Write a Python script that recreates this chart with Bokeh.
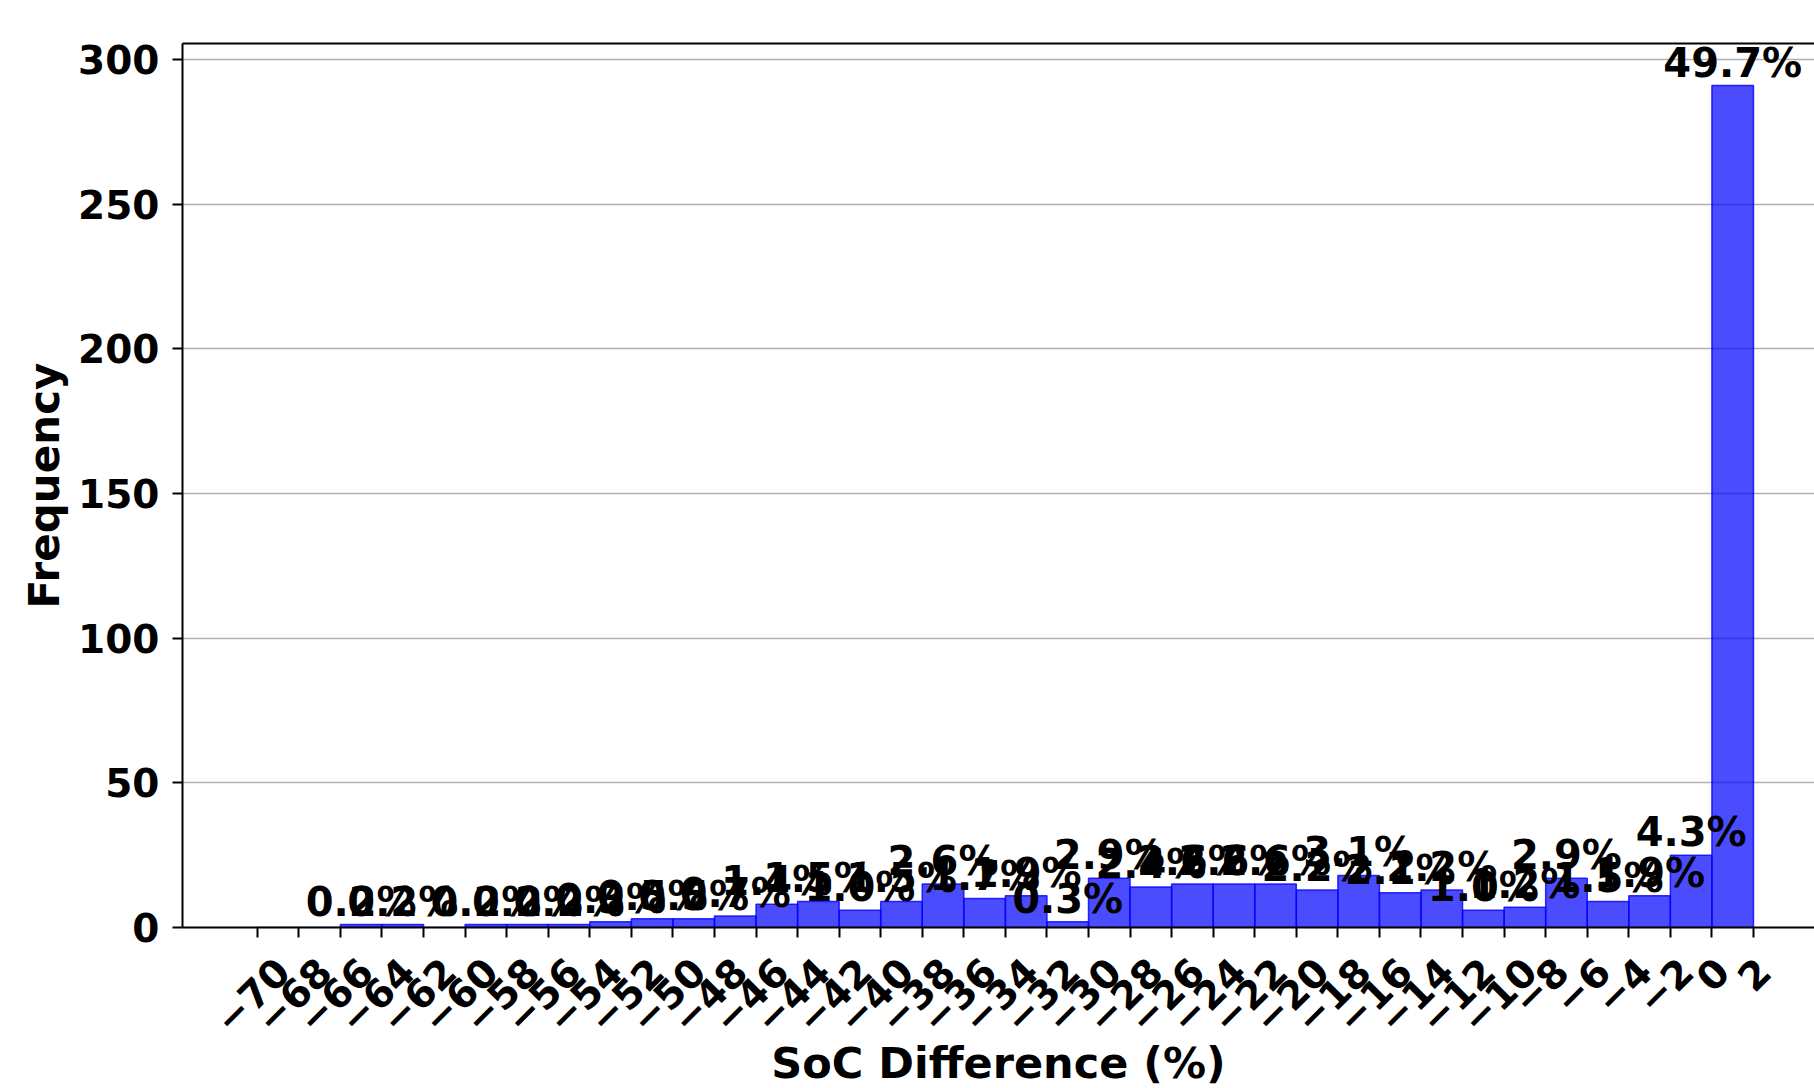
import math
from bokeh.plotting import figure
from bokeh.models import ColumnDataSource, Range1d, FixedTicker, LinearAxis
from bokeh.core.properties import value
from bokeh.embed import file_html
from bokeh.resources import INLINE

# ---------------- data ----------------
bin_left = [-70, -68, -66, -64, -62, -60, -58, -56, -54, -52, -50, -48,
            -46, -44, -42, -40, -38, -36, -34, -32, -30, -28, -26, -24,
            -22, -20, -18, -16, -14, -12, -10, -8, -6, -4, -2, 0]
bin_width = 2
counts = [0, 0, 1, 1, 0, 1, 1, 1, 2, 3, 3, 4,
          8, 9, 6, 9, 15, 10, 11, 2, 17, 14, 15, 15,
          15, 13, 18, 12, 13, 6, 7, 17, 9, 11, 25, 291]
x_ticks = [-70, -68, -66, -64, -62, -60, -58, -56, -54, -52, -50, -48,
           -46, -44, -42, -40, -38, -36, -34, -32, -30, -28, -26, -24,
           -22, -20, -18, -16, -14, -12, -10, -8, -6, -4, -2, 0, 2]
x_tick_labels = ["\u221270", "\u221268", "\u221266", "\u221264", "\u221262", "\u221260",
                 "\u221258", "\u221256", "\u221254", "\u221252", "\u221250", "\u221248",
                 "\u221246", "\u221244", "\u221242", "\u221240", "\u221238", "\u221236",
                 "\u221234", "\u221232", "\u221230", "\u221228", "\u221226", "\u221224",
                 "\u221222", "\u221220", "\u221218", "\u221216", "\u221214", "\u221212",
                 "\u221210", "\u22128", "\u22126", "\u22124", "\u22122", "0", "2"]
y_ticks = [0, 50, 100, 150, 200, 250, 300]
x_title = "SoC Difference (%)"
y_title = "Frequency"

FONT = "DejaVu Sans"
FRAME_W = 1632
X0 = -73.6
PX_PER_UNIT = 20.78
TICK_EM = 39

total = sum(counts)
bars = ColumnDataSource(dict(
    left=bin_left,
    right=[b + bin_width for b in bin_left],
    top=counts,
))
pct = ColumnDataSource(dict(
    x=[b + bin_width / 2 for b, c in zip(bin_left, counts) if c > 0],
    y=[c for c in counts if c > 0],
    text=[f"{c / total * 100:.1f}%" for c in counts if c > 0],
))

p = figure(frame_width=FRAME_W, frame_height=884,
           x_range=Range1d(X0, X0 + FRAME_W / PX_PER_UNIT),
           y_range=Range1d(0, 305.55),
           output_backend="svg", toolbar_location=None,
           min_border_left=182, min_border_right=0, min_border_top=43,
           min_border_bottom=0,
           y_axis_label=y_title,
           outline_line_color=None, background_fill_color="white",
           border_fill_color="white")

p.quad(source=bars, left="left", right="right", bottom=0, top="top",
       fill_color="blue", fill_alpha=0.7, line_color="blue", line_alpha=0.8,
       line_width=1.5)

p.text(source=pct, x="x", y="y", text="text", text_align="center",
       text_baseline="bottom", text_font=value(FONT), text_font_style="bold",
       text_font_size="40px", text_color="black")

# grid
p.xgrid.visible = False
p.ygrid.ticker = FixedTicker(ticks=y_ticks)
p.ygrid.grid_line_color = "#b0b0b0"
p.ygrid.grid_line_width = 1.5

# x axis 1: spine + tick marks only
xa = p.xaxis[0]
xa.ticker = FixedTicker(ticks=x_ticks)
xa.major_label_overrides = {t: "" for t in x_ticks}
xa.major_label_text_font_size = "0px"
xa.major_label_standoff = 0
xa.major_tick_out = 10
xa.major_tick_in = 0
xa.minor_tick_line_color = None
xa.axis_line_width = 2
xa.axis_line_color = "black"
xa.major_tick_line_width = 2
xa.major_tick_line_color = "black"

# x axis 2: rotated labels, shifted so each rotated label is centred on its tick
cw = {"\u2212": 0.838}
def label_shift_px(s):
    W = sum(cw.get(ch, 0.696) for ch in s)
    if s.startswith("\u2212"):
        min_x = 0.707 * (-(W - 0.09) + 0.016)
    else:
        min_x = 0.707 * (-(W - 0.06) - 0.384)
    centre = 0.5 * (0.209 + min_x)
    return -centre * TICK_EM
label_pos = [round(t + label_shift_px(s) / PX_PER_UNIT, 4)
             for t, s in zip(x_ticks, x_tick_labels)]
xb = LinearAxis(ticker=FixedTicker(ticks=label_pos),
                major_label_overrides={k: s for k, s in zip(label_pos, x_tick_labels)},
                major_label_orientation=math.pi / 4,
                major_label_text_font=FONT, major_label_text_font_size=f"{TICK_EM}px",
                major_label_text_font_style="bold", major_label_text_color="black",
                major_label_standoff=27,
                axis_line_color=None, major_tick_line_color=None,
                minor_tick_line_color=None, major_tick_out=0, major_tick_in=0,
                axis_label=x_title, axis_label_text_font=FONT,
                axis_label_text_font_size="43px", axis_label_text_font_style="bold",
                axis_label_text_color="black", axis_label_standoff=-11)
p.add_layout(xb, "below")

ya = p.yaxis[0]
ya.ticker = FixedTicker(ticks=y_ticks)
ya.major_label_text_font = FONT
ya.major_label_text_font_size = "39px"
ya.major_label_text_font_style = "bold"
ya.major_label_text_color = "black"
ya.major_label_standoff = 13
ya.major_tick_out = 10
ya.major_tick_in = 0
ya.minor_tick_line_color = None
ya.axis_line_width = 2
ya.axis_line_color = "black"
ya.major_tick_line_width = 2
ya.major_tick_line_color = "black"
ya.axis_label_text_font = FONT
ya.axis_label_text_font_size = "42px"
ya.axis_label_text_font_style = "bold"
ya.axis_label_text_color = "black"
ya.axis_label_standoff = 6

# top spine
top_axis = LinearAxis(ticker=FixedTicker(ticks=[]), axis_line_width=2,
                      axis_line_color="black",
                      major_tick_line_color=None, minor_tick_line_color=None,
                      major_label_text_font_size="0px")
p.add_layout(top_axis, "above")

open("out.html", "w").write(file_html(p, INLINE))
